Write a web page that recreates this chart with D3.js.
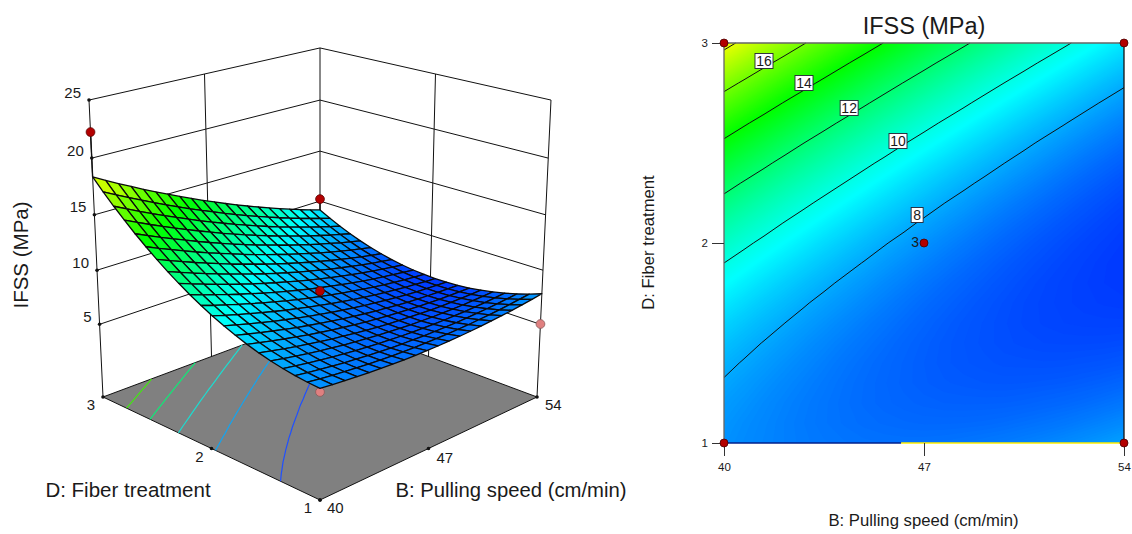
<!DOCTYPE html>
<html>
<head>
<meta charset="utf-8">
<style>
  html, body { margin: 0; background: #fff; }
  svg { display: block; font-family: "Liberation Sans", Arial, sans-serif; fill: #1a1a1a; }
</style>
<script src="https://cdn.jsdelivr.net/npm/d3@7"></script>
</head>
<body>
<svg id="chart" width="1132" height="534"></svg>
<script>
const pullingSpeedTicks = [40, 47, 54];
const fiberTreatmentTicks = [1, 2, 3];
const ifssTicks = [5, 10, 15, 20, 25];
const contourLevels = [8, 10, 12, 14, 16, 18];
const floorLevels = [8, 10, 12, 14, 16];

// design points
const designSpeed = [40, 54, 40, 54, 47];
const designTreatment = [3, 3, 1, 1, 2];
const designIfss = [22.26, 10.2, 7.26, 5.03, 8.09];

// contour label spots, one per labelled level
const labelLevels = [16, 14, 12, 10, 8];
const labelSpeed = [41.4, 42.8, 44.38, 46.09, 46.76];
const labelTreatment = [2.91, 2.8, 2.675, 2.51, 2.14];

// IFSS: one row per treatment step (1 to 3), one column per speed step (40 to 54)
const ifssRows = [
  [7.56, 7.44, 7.34, 7.25, 7.17, 7.11, 7.06, 7.02, 7.00, 6.99, 7.00, 7.02, 7.06, 7.11, 7.17, 7.25, 7.34, 7.44, 7.56, 7.69, 7.84],
  [7.64, 7.49, 7.37, 7.25, 7.15, 7.06, 6.99, 6.93, 6.89, 6.86, 6.84, 6.84, 6.85, 6.87, 6.91, 6.97, 7.03, 7.11, 7.21, 7.32, 7.44],
  [7.76, 7.60, 7.44, 7.30, 7.18, 7.07, 6.97, 6.89, 6.82, 6.77, 6.73, 6.70, 6.69, 6.69, 6.70, 6.73, 6.78, 6.83, 6.90, 6.99, 7.09],
  [7.94, 7.75, 7.57, 7.41, 7.26, 7.13, 7.00, 6.90, 6.81, 6.73, 6.66, 6.61, 6.58, 6.55, 6.54, 6.55, 6.57, 6.60, 6.65, 6.71, 6.79],
  [8.16, 7.95, 7.75, 7.56, 7.39, 7.23, 7.08, 6.95, 6.84, 6.74, 6.65, 6.57, 6.51, 6.47, 6.43, 6.42, 6.41, 6.42, 6.45, 6.48, 6.53],
  [8.43, 8.19, 7.97, 7.76, 7.56, 7.38, 7.21, 7.06, 6.92, 6.79, 6.68, 6.58, 6.50, 6.43, 6.37, 6.33, 6.30, 6.29, 6.29, 6.30, 6.33],
  [8.75, 8.49, 8.24, 8.01, 7.79, 7.58, 7.39, 7.21, 7.05, 6.90, 6.76, 6.64, 6.53, 6.44, 6.36, 6.29, 6.24, 6.20, 6.18, 6.17, 6.17],
  [9.12, 8.84, 8.56, 8.31, 8.06, 7.83, 7.62, 7.42, 7.23, 7.05, 6.89, 6.75, 6.62, 6.50, 6.39, 6.30, 6.23, 6.17, 6.12, 6.09, 6.07],
  [9.54, 9.23, 8.93, 8.65, 8.38, 8.13, 7.89, 7.67, 7.45, 7.26, 7.07, 6.90, 6.75, 6.61, 6.48, 6.36, 6.26, 6.18, 6.11, 6.05, 6.01],
  [10.00, 9.67, 9.35, 9.05, 8.76, 8.48, 8.21, 7.97, 7.73, 7.51, 7.30, 7.11, 6.93, 6.76, 6.61, 6.47, 6.35, 6.24, 6.15, 6.06, 6.00],
  [10.52, 10.16, 9.82, 9.49, 9.18, 8.87, 8.59, 8.31, 8.05, 7.81, 7.58, 7.36, 7.16, 6.97, 6.79, 6.63, 6.48, 6.35, 6.23, 6.13, 6.04],
  [11.08, 10.70, 10.34, 9.98, 9.64, 9.32, 9.01, 8.71, 8.43, 8.16, 7.90, 7.66, 7.44, 7.22, 7.02, 6.84, 6.67, 6.51, 6.37, 6.24, 6.12],
  [11.70, 11.29, 10.90, 10.52, 10.16, 9.81, 9.48, 9.16, 8.85, 8.56, 8.28, 8.01, 7.76, 7.52, 7.30, 7.09, 6.90, 6.72, 6.55, 6.40, 6.26],
  [12.36, 11.93, 11.52, 11.11, 10.73, 10.35, 10.00, 9.65, 9.32, 9.00, 8.70, 8.41, 8.14, 7.88, 7.63, 7.40, 7.18, 6.97, 6.78, 6.61, 6.44],
  [13.07, 12.62, 12.18, 11.75, 11.34, 10.95, 10.56, 10.19, 9.84, 9.50, 9.17, 8.86, 8.56, 8.28, 8.01, 7.75, 7.51, 7.28, 7.06, 6.86, 6.68],
  [13.83, 13.35, 12.89, 12.44, 12.00, 11.58, 11.18, 10.79, 10.41, 10.04, 9.69, 9.36, 9.03, 8.73, 8.43, 8.15, 7.88, 7.63, 7.39, 7.17, 6.96],
  [14.63, 14.13, 13.65, 13.18, 12.72, 12.27, 11.84, 11.43, 11.02, 10.64, 10.26, 9.90, 9.56, 9.22, 8.91, 8.60, 8.31, 8.04, 7.77, 7.52, 7.29],
  [15.49, 14.97, 14.46, 13.96, 13.48, 13.01, 12.56, 12.12, 11.69, 11.28, 10.88, 10.50, 10.13, 9.77, 9.43, 9.10, 8.79, 8.49, 8.20, 7.93, 7.67],
  [16.39, 15.85, 15.31, 14.79, 14.29, 13.80, 13.32, 12.85, 12.40, 11.97, 11.55, 11.14, 10.74, 10.36, 10.00, 9.65, 9.31, 8.99, 8.68, 8.38, 8.10],
  [17.35, 16.78, 16.22, 15.68, 15.15, 14.63, 14.13, 13.64, 13.17, 12.71, 12.26, 11.83, 11.41, 11.01, 10.62, 10.24, 9.88, 9.53, 9.20, 8.88, 8.57],
  [18.35, 17.75, 17.17, 16.61, 16.05, 15.51, 14.99, 14.48, 13.98, 13.49, 13.03, 12.57, 12.13, 11.70, 11.29, 10.89, 10.50, 10.13, 9.77, 9.43, 9.10]
];

const gridSize = ifssRows.length;
const flatValues = ifssRows.flat();

const colorScale = d3.scaleLinear()
  .domain([5, 9.5, 14, 18.5, 23])
  .range(["#0000ff", "#00ffff", "#00ff00", "#ffff00", "#ff0000"]);

const floorLineColor = d3.scaleOrdinal()
  .domain(floorLevels)
  .range(["#1f50ff", "#12a4f0", "#1cdcd0", "#10e878", "#40e810"]);

// shared scales
const speedUnit = d3.scaleLinear().domain([40, 54]).range([0, 1]);
const treatmentUnit = d3.scaleLinear().domain([1, 3]).range([0, 1]);
const heightUnit = d3.scaleLinear().domain([-1.9, 25]).range([0, 1]);
const gridToSpeed = d3.scaleLinear().domain([0.5, gridSize - 0.5]).range([40, 54]);
const gridToTreatment = d3.scaleLinear().domain([0.5, gridSize - 0.5]).range([1, 3]);

// camera for the left panel, a plain perspective matrix
function project(speed, treatment, ifss) {
  const u = speedUnit(speed);
  const v = treatmentUnit(treatment);
  const w = heightUnit(ifss);
  const depth = 1 + 0.1358 * u + 0.1358 * v - 0.0688 * w;
  return [
    (289.93 * u - 203.01 * v + 320 - 22.02 * w) / depth,
    (-49.09 * u - 49.09 * v + 500 - 344.15 * w) / depth
  ];
}

// the original puts its middle ticks halfway along the drawn edge, not at the perspective middle
function halfway(a, b) {
  return [(a[0] + b[0]) / 2, (a[1] + b[1]) / 2];
}

function buildContours(levels) {
  return d3.contours().size([gridSize, gridSize]).thresholds(levels)(flatValues);
}

// contour rings run round the padded edge of the grid, keep only what lies inside it
function contourRuns(contour) {
  const lo = 0.5 - 1e-6;
  const hi = gridSize - 0.5 + 1e-6;
  const runs = [];
  contour.coordinates.forEach((polygon) => {
    polygon.forEach((ring) => {
      let run = [];
      ring.forEach((p) => {
        if (p[0] >= lo && p[0] <= hi && p[1] >= lo && p[1] <= hi) {
          run.push(p);
        } else {
          if (run.length > 1) runs.push(run);
          run = [];
        }
      });
      if (run.length > 1) runs.push(run);
    });
  });
  return runs;
}

function surfaceValueAt(speed, treatment) {
  return ifssRows[Math.round(treatmentUnit(treatment) * (gridSize - 1))][Math.round(speedUnit(speed) * (gridSize - 1))];
}

const svg = d3.select("#chart");
const surfaceDots = designSpeed.map((speed, i) => ({
  speed,
  treatment: designTreatment[i],
  ifss: designIfss[i],
  above: designIfss[i] > surfaceValueAt(speed, designTreatment[i])
}));

function drawSurfacePanel() {
  const panel = svg.append("g");
  const pathLine = d3.line();
  const wire = panel.append("g").attr("fill", "none").attr("stroke", "#111").attr("stroke-width", 1);

  const floorZ = heightUnit.domain()[0];
  const topZ = heightUnit.domain()[1];
  const wallPath = (a, b) => wire.append("path").attr("d", pathLine([a, b]));
  const wallLine = (from, to) => wallPath(project(...from), project(...to));

  // back walls
  ifssTicks.forEach((z) => {
    wallLine([40, 3, z], [54, 3, z]);
    wallLine([54, 3, z], [54, 1, z]);
  });
  wallPath(
    halfway(project(40, 3, floorZ), project(54, 3, floorZ)),
    halfway(project(40, 3, topZ), project(54, 3, topZ))
  );
  wallPath(
    halfway(project(54, 3, floorZ), project(54, 1, floorZ)),
    halfway(project(54, 3, topZ), project(54, 1, topZ))
  );
  wallLine([40, 3, floorZ], [40, 3, topZ]);
  wallLine([54, 3, floorZ], [54, 3, topZ]);
  wallLine([54, 1, floorZ], [54, 1, topZ]);

  // floor
  const floorCorners = [[40, 1], [54, 1], [54, 3], [40, 3]].map((c) => project(c[0], c[1], floorZ));
  panel.append("path")
    .attr("d", pathLine(floorCorners) + "Z")
    .attr("fill", "#808080")
    .attr("stroke", "#111")
    .attr("stroke-width", 1);

  const floorPoint = (p) => project(gridToSpeed(p[0]), gridToTreatment(p[1]), floorZ);
  buildContours(floorLevels).forEach((contour) => {
    contourRuns(contour).forEach((run) => {
      panel.append("path")
        .attr("d", pathLine(run.map(floorPoint)))
        .attr("fill", "none")
        .attr("stroke", floorLineColor(contour.value))
        .attr("stroke-width", 1.2);
    });
  });

  // small tick dots
  const frontCorner = project(40, 1, floorZ);
  const treatmentSpots = [frontCorner, halfway(frontCorner, project(40, 3, floorZ)), project(40, 3, floorZ)];
  const speedSpots = [frontCorner, halfway(frontCorner, project(54, 1, floorZ)), project(54, 1, floorZ)];
  const tickDots = ifssTicks.map((z) => project(40, 3, z)).concat(treatmentSpots, speedSpots);
  panel.append("g").selectAll("circle").data(tickDots).join("circle")
    .attr("cx", (d) => d[0]).attr("cy", (d) => d[1]).attr("r", 1.8).attr("fill", "#111");

  const drawDots = (dots) => {
    dots.forEach((d) => {
      const at = project(d.speed, d.treatment, d.ifss);
      if (d.above) {
        panel.append("path")
          .attr("d", pathLine([at, project(d.speed, d.treatment, surfaceValueAt(d.speed, d.treatment))]))
          .attr("stroke", "#111").attr("stroke-width", 1.4);
      }
      panel.append("circle")
        .attr("cx", at[0]).attr("cy", at[1]).attr("r", 4.4)
        .attr("fill", d.above ? "#b30000" : "#e08080")
        .attr("stroke", d.above ? "#5c0000" : "#8a5a5a")
        .attr("stroke-width", 0.8);
    });
  };

  drawDots(surfaceDots.filter((d) => !d.above));

  // mesh, far cells first
  const cells = [];
  for (let j = 0; j < gridSize - 1; j += 1) {
    for (let i = 0; i < gridSize - 1; i += 1) {
      cells.push({ i, j });
    }
  }
  cells.sort((a, b) => (b.i + b.j) - (a.i + a.j));
  const meshPoint = (i, j) => project(gridToSpeed(i + 0.5), gridToTreatment(j + 0.5), ifssRows[j][i]);
  panel.append("g").selectAll("path").data(cells).join("path")
    .attr("d", (c) => pathLine([
      meshPoint(c.i, c.j), meshPoint(c.i + 1, c.j), meshPoint(c.i + 1, c.j + 1), meshPoint(c.i, c.j + 1)
    ]) + "Z")
    .attr("fill", (c) => colorScale(d3.mean([
      ifssRows[c.j][c.i], ifssRows[c.j][c.i + 1], ifssRows[c.j + 1][c.i], ifssRows[c.j + 1][c.i + 1]
    ])))
    .attr("stroke", "#0a0a0a")
    .attr("stroke-width", 1.3)
    .attr("stroke-linejoin", "round");

  drawDots(surfaceDots.filter((d) => d.above));

  // tick labels
  const label = (xy, text, anchor) => panel.append("text")
    .attr("x", xy[0]).attr("y", xy[1]).attr("text-anchor", anchor).attr("font-size", 15).text(text);

  ifssTicks.forEach((z) => {
    const p = project(40, 3, z);
    label([p[0] - 8, p[1] - 2.5], z, "end");
  });
  const treatmentOffsets = [[-8, 13], [-8, 14], [-8, 13]];
  fiberTreatmentTicks.forEach((t, i) => {
    const p = treatmentSpots[i];
    label([p[0] + treatmentOffsets[i][0], p[1] + treatmentOffsets[i][1]], t, "end");
  });
  const speedOffsets = [[7, 13], [8, 15], [8, 13]];
  pullingSpeedTicks.forEach((s, i) => {
    const p = speedSpots[i];
    label([p[0] + speedOffsets[i][0], p[1] + speedOffsets[i][1]], s, "start");
  });

  panel.append("text")
    .attr("transform", "translate(28,255) rotate(-90)")
    .attr("text-anchor", "middle").attr("font-size", 20.5).text("IFSS (MPa)");
  panel.append("text")
    .attr("x", 128).attr("y", 497)
    .attr("text-anchor", "middle").attr("font-size", 20.5).text("D: Fiber treatment");
  panel.append("text")
    .attr("x", 511).attr("y", 497)
    .attr("text-anchor", "middle").attr("font-size", 20.3).text("B: Pulling speed (cm/min)");
}

function drawContourPanel() {
  const panel = svg.append("g");
  const x = d3.scaleLinear().domain([40, 54]).range([724, 1124]);
  const y = d3.scaleLinear().domain([1, 3]).range([443, 43]);
  const gridX = (v) => x(gridToSpeed(v));
  const gridY = (v) => y(gridToTreatment(v));

  svg.append("defs").append("clipPath").attr("id", "plot-clip").append("rect")
    .attr("x", x(40)).attr("y", y(3)).attr("width", x(54) - x(40)).attr("height", y(1) - y(3));

  const bands = panel.append("g").attr("clip-path", "url(#plot-clip)");
  bands.append("rect")
    .attr("x", x(40)).attr("y", y(3)).attr("width", x(54) - x(40)).attr("height", y(1) - y(3))
    .attr("fill", colorScale(d3.min(flatValues)));

  const bandPath = d3.geoPath(d3.geoTransform({
    point(px, py) {
      this.stream.point(gridX(px), gridY(py));
    }
  }));
  const bandLevels = d3.range(6, 18.4, 0.05);
  bands.selectAll("path.band").data(buildContours(bandLevels)).join("path")
    .attr("class", "band")
    .attr("d", bandPath)
    .attr("fill", (d) => colorScale(d.value + 0.025));

  const line = d3.line().x((p) => gridX(p[0])).y((p) => gridY(p[1]));
  buildContours(contourLevels).forEach((contour) => {
    contourRuns(contour).forEach((run) => {
      panel.append("path")
        .attr("d", line(run))
        .attr("fill", "none")
        .attr("stroke", "#111")
        .attr("stroke-width", 1);
    });
  });

  // frame, the bottom edge really is two colours in the original
  const frame = panel.append("g").attr("fill", "none").attr("stroke-width", 1.3);
  frame.append("path").attr("d", `M${x(40)},${y(1)}V${y(3)}H${x(54)}`).attr("stroke", "#666");
  frame.append("path").attr("d", `M${x(54)},${y(3)}V${y(1)}`).attr("stroke", "#111");
  frame.append("path").attr("d", `M${x(40)},${y(1)}H${x(46.2)}`).attr("stroke", "#00208c").attr("stroke-width", 1.6);
  frame.append("path").attr("d", `M${x(46.2)},${y(1)}H${x(54)}`).attr("stroke", "#ffee00").attr("stroke-width", 1.6);

  const xAxis = d3.axisBottom(x).tickValues(pullingSpeedTicks).tickFormat(d3.format("d")).tickSize(13).tickPadding(7);
  const yAxis = d3.axisLeft(y).tickValues(fiberTreatmentTicks).tickFormat(d3.format("d")).tickSize(12).tickPadding(4);
  const xAxisGroup = panel.append("g").attr("transform", `translate(0,${y(1)})`).call(xAxis);
  const yAxisGroup = panel.append("g").attr("transform", `translate(${x(40)},0)`).call(yAxis);
  [xAxisGroup, yAxisGroup].forEach((group) => {
    group.select(".domain").remove();
    group.selectAll("text").attr("font-size", 11.5).attr("font-family", "Liberation Sans, Arial, sans-serif").attr("fill", "#1a1a1a");
    group.selectAll("line").attr("stroke", "#333");
  });

  // contour labels
  const labels = panel.append("g");
  labelLevels.forEach((level, i) => {
    const cx = x(labelSpeed[i]);
    const cy = y(labelTreatment[i]);
    const boxWidth = level < 10 ? 12 : 18;
    labels.append("rect")
      .attr("x", cx - boxWidth / 2).attr("y", cy - 7.5)
      .attr("width", boxWidth).attr("height", 15)
      .attr("fill", "#fff").attr("stroke", "#223").attr("stroke-width", 0.9);
    labels.append("text")
      .attr("x", cx).attr("y", cy + 5)
      .attr("text-anchor", "middle").attr("font-size", 14).text(level);
  });

  panel.append("g").selectAll("circle").data(surfaceDots).join("circle")
    .attr("cx", (d) => x(d.speed)).attr("cy", (d) => y(d.treatment)).attr("r", 4)
    .attr("fill", "#b30000").attr("stroke", "#4a0000").attr("stroke-width", 0.8);
  panel.append("text")
    .attr("x", x(47) - 5).attr("y", y(2) + 4)
    .attr("text-anchor", "end").attr("font-size", 14).text("3");

  panel.append("text")
    .attr("x", x(47)).attr("y", 34)
    .attr("text-anchor", "middle").attr("font-size", 23.5).text("IFSS (MPa)");
  panel.append("text")
    .attr("x", x(47) - 0.5).attr("y", 526)
    .attr("text-anchor", "middle").attr("font-size", 16.7).text("B: Pulling speed (cm/min)");
  panel.append("text")
    .attr("transform", "translate(654,242.5) rotate(-90)")
    .attr("text-anchor", "middle").attr("font-size", 16.7).text("D: Fiber treatment");
}

drawSurfacePanel();
drawContourPanel();
</script>
</body>
</html>
